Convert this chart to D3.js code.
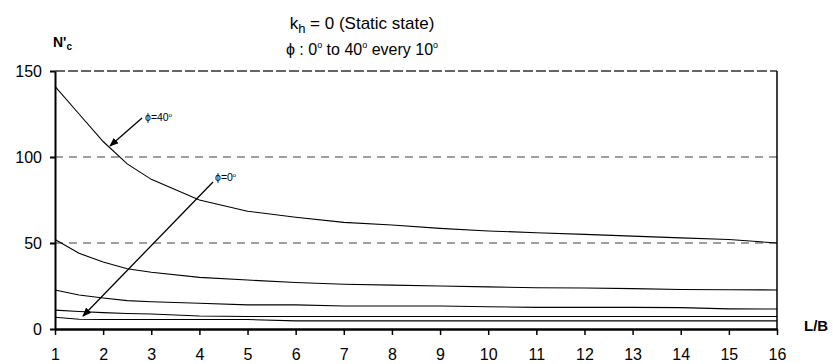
<!DOCTYPE html>
<html>
<head>
<meta charset="utf-8">
<script src="https://cdn.jsdelivr.net/npm/d3@7"></script>
<style>
  body { margin: 0; background: #fff; }
  svg { font-family: Arial, "Liberation Sans", sans-serif; }
</style>
</head>
<body>
<div id="graph"></div>
<script>
// L/B values and N'c
const lbValues = [1, 1.5, 2, 2.5, 3, 4, 5, 6, 7, 8, 9, 10, 11, 12, 13, 14, 15, 16]
const phi40 = [141, 125, 109, 96, 87, 75, 68.5, 65, 62, 60.5, 58.5, 57, 56, 55, 54, 53, 52, 50]
const phi30 = [52, 44, 39, 35, 33, 30, 28.5, 27, 26, 25.5, 25, 24.5, 24, 23.8, 23.5, 23, 22.8, 22.7]
const phi20 = [22.7, 19.8, 18, 16.5, 15.8, 15, 14, 14, 13.4, 13.4, 13.4, 12.9, 12.6, 12.6, 12.6, 12.4, 11.7, 11.6]
const phi10 = [11, 10.2, 9.5, 9, 8.7, 7.6, 7.3, 7.3, 7.3, 7.3, 7.3, 7.3, 7.3, 7.3, 7.3, 7.3, 7.3, 7.3]
const phi0 = [6.8, 5.7, 5.5, 5.5, 5.5, 5.5, 5.5, 4.7, 4.7, 4.7, 4.7, 4.7, 4.7, 4.7, 4.7, 4.7, 4.7, 4.7]

const xTicks = d3.range(1, 17)
const yTicks = [0, 50, 100, 150]
const gridValues = [50, 100]

const width = 833
const height = 364
const marginTop = 71
const marginRight = 56
const marginBottom = 35
const marginLeft = 55
const font = "Arial, 'Liberation Sans', sans-serif"

const xScale = d3.scaleLinear()
                 .domain([1, 16])
                 .range([marginLeft, width - marginRight])

const yScale = d3.scaleLinear()
                 .domain([0, 150])
                 .range([height - marginBottom, marginTop])

const svg = d3.create("svg")
              .attr("width", width)
              .attr("height", height)

// gridlines
svg.append("g")
   .selectAll("line")
   .data(gridValues)
   .join("line")
   .attr("x1", marginLeft)
   .attr("x2", width - marginRight)
   .attr("y1", d => yScale(d))
   .attr("y2", d => yScale(d))
   .attr("stroke", "#808080")
   .attr("stroke-width", 1.3)
   .attr("stroke-dasharray", "8,6")

// top border (dashed)
svg.append("line")
   .attr("x1", marginLeft)
   .attr("x2", width - marginRight)
   .attr("y1", yScale(150))
   .attr("y2", yScale(150))
   .attr("stroke", "#333")
   .attr("stroke-width", 1.3)
   .attr("stroke-dasharray", "10,3")

// right border
svg.append("line")
   .attr("x1", xScale(16))
   .attr("x2", xScale(16))
   .attr("y1", yScale(150))
   .attr("y2", yScale(0))
   .attr("stroke", "#000")
   .attr("stroke-width", 1.5)

// curves
const line = d3.line()
               .x((d, i) => xScale(lbValues[i]))
               .y(d => yScale(d))

svg.append("g")
   .selectAll("path")
   .data([phi40, phi30, phi20, phi10, phi0])
   .join("path")
   .attr("d", line)
   .attr("fill", "none")
   .attr("stroke", "#000")
   .attr("stroke-width", 1.1)

// x-axis
const xAxis = d3.axisBottom(xScale)
                .tickValues(xTicks)
                .tickSize(6)
                .tickPadding(14)
                .tickSizeOuter(0)

svg.append("g")
   .attr("transform", `translate(0, ${height - marginBottom})`)
   .call(xAxis)
   .call(g => g.select(".domain").attr("stroke-width", 2.5))
   .call(g => g.selectAll(".tick line").attr("stroke-width", 1.5))
   .call(g => g.selectAll("text").attr("font-size", 16).attr("font-family", font).attr("fill", "#000"))

// y-axis
const yAxis = d3.axisLeft(yScale)
                .tickValues(yTicks)
                .tickSize(5)
                .tickPadding(8)
                .tickSizeOuter(0)

svg.append("g")
   .attr("transform", `translate(${marginLeft}, 0)`)
   .call(yAxis)
   .call(g => g.select(".domain").attr("stroke-width", 2))
   .call(g => g.selectAll(".tick line").attr("stroke-width", 2))
   .call(g => g.selectAll("text").attr("font-size", 16).attr("font-family", font).attr("fill", "#000"))

// axis titles
const yTitle = svg.append("text")
   .attr("x", 53)
   .attr("y", 47)
   .attr("font-size", 14)
   .attr("font-weight", "bold")
yTitle.append("tspan").text("N'")
yTitle.append("tspan").attr("font-size", 10).attr("dy", 3).text("c")

svg.append("text")
   .attr("x", 804)
   .attr("y", 331)
   .attr("font-size", 15)
   .attr("font-weight", "bold")
   .text("L/B")

// chart title
const t1 = svg.append("text")
   .attr("x", 362)
   .attr("y", 29)
   .attr("text-anchor", "middle")
   .attr("font-size", 17)
t1.append("tspan").text("k")
t1.append("tspan").attr("font-size", 13).attr("dy", 4).text("h")
t1.append("tspan").attr("dy", -4).text(" = 0 (Static state)")

const t2 = svg.append("text")
   .attr("x", 362)
   .attr("y", 55)
   .attr("text-anchor", "middle")
   .attr("font-size", 16)
t2.append("tspan").text("\u03d5 : 0")
t2.append("tspan").attr("font-size", 9).attr("dy", -7).text("o")
t2.append("tspan").attr("dy", 7).text(" to 40")
t2.append("tspan").attr("font-size", 9).attr("dy", -7).text("o")
t2.append("tspan").attr("dy", 7).text(" every 10")
t2.append("tspan").attr("font-size", 9).attr("dy", -7).text("o")

// annotations
svg.append("defs")
   .append("marker")
   .attr("id", "arrow")
   .attr("viewBox", "0 0 10 10")
   .attr("refX", 9)
   .attr("refY", 5)
   .attr("markerWidth", 7)
   .attr("markerHeight", 7)
   .attr("orient", "auto")
   .append("path")
   .attr("d", "M0,1 L10,5 L0,9 Z")
   .attr("fill", "#000")

const notes = [
  {text: "40", x1: 142, y1: 118, x2: 110, y2: 146, tx: 145, ty: 121},
  {text: "0", x1: 213, y1: 182, x2: 83, y2: 316, tx: 215, ty: 181}
]

svg.append("g")
   .selectAll("line")
   .data(notes)
   .join("line")
   .attr("x1", d => d.x1)
   .attr("y1", d => d.y1)
   .attr("x2", d => d.x2)
   .attr("y2", d => d.y2)
   .attr("stroke", "#000")
   .attr("stroke-width", 1.3)
   .attr("marker-end", "url(#arrow)")

const noteText = svg.append("g")
   .selectAll("text")
   .data(notes)
   .join("text")
   .attr("x", d => d.tx)
   .attr("y", d => d.ty)
   .attr("font-size", 10.5)
noteText.append("tspan").text(d => "\u03d5=" + d.text)
noteText.append("tspan").attr("font-size", 6).attr("dy", -4).text("o")

graph.append(svg.node())
</script>
</body>
</html>
